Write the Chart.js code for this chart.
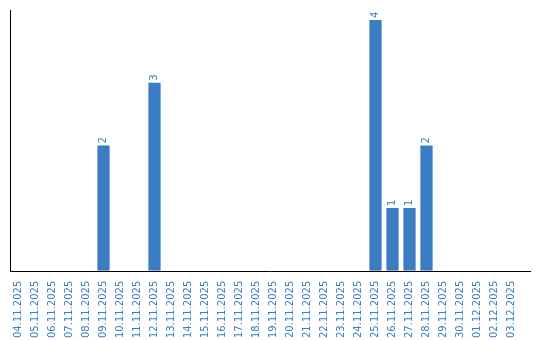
<!DOCTYPE html>
<html><head><meta charset="utf-8">
<script src="https://cdn.jsdelivr.net/npm/chart.js@4"></script>
<style>html,body{margin:0;padding:0;background:#fff}#wrap{width:540px;height:340px}</style>
</head><body><div id="wrap"><canvas id="c"></canvas></div>
<script>
const categories = ["04.11.2025","05.11.2025","06.11.2025","07.11.2025","08.11.2025","09.11.2025","10.11.2025","11.11.2025","12.11.2025","13.11.2025","14.11.2025","15.11.2025","16.11.2025","17.11.2025","18.11.2025","19.11.2025","20.11.2025","21.11.2025","22.11.2025","23.11.2025","24.11.2025","25.11.2025","26.11.2025","27.11.2025","28.11.2025","29.11.2025","30.11.2025","01.12.2025","02.12.2025","03.12.2025"];
const values = [0,0,0,0,0,2,0,0,3,0,0,0,0,0,0,0,0,0,0,0,0,4,1,1,2,0,0,0,0,0];
const BLUE = '#3a7dc2';

const valueLabels = {
  id: 'valueLabels',
  afterDatasetsDraw(chart) {
    const ctx = chart.ctx;
    const meta = chart.getDatasetMeta(0);
    ctx.save();
    ctx.fillStyle = BLUE;
    ctx.font = '10px "DejaVu Sans"';
    ctx.textAlign = 'left';
    ctx.textBaseline = 'middle';
    meta.data.forEach((bar, i) => {
      const v = values[i];
      if (!v) return;
      ctx.save();
      ctx.translate(bar.x, bar.y - 2);
      ctx.rotate(-Math.PI / 2);
      ctx.fillText(String(v), 0, 0);
      ctx.restore();
    });
    ctx.restore();
  }
};

// x axis line extends a little beyond the last category slot
const axisLine = {
  id: 'axisLine',
  afterDraw(chart) {
    const { ctx, chartArea } = chart;
    const y = Math.round(chart.scales.y.getPixelForValue(0)) + 0.5;
    ctx.save();
    ctx.strokeStyle = '#000';
    ctx.lineWidth = 1;
    ctx.beginPath();
    ctx.moveTo(chartArea.left, y);
    ctx.lineTo(chartArea.right + 11, y);
    ctx.stroke();
    ctx.restore();
  }
};

new Chart(document.getElementById('c'), {
  type: 'bar',
  data: { labels: categories, datasets: [{ data: values, backgroundColor: BLUE, borderWidth: 0 }] },
  options: {
    responsive: true, maintainAspectRatio: false, animation: false,
    layout: { padding: { left: 2, right: 20, top: 10, bottom: 0 } },
    plugins: { legend: { display: false }, tooltip: { enabled: false } },
    scales: {
      x: {
        grid: { display: false },
        border: { display: false },
        ticks: { color: BLUE, font: { family: 'DejaVu Sans', size: 10 }, minRotation: 90, maxRotation: 90, autoSkip: false, padding: 2 }
      },
      y: {
        min: 0, max: Math.max(...values) * 1.04,
        grid: { display: false },
        border: { display: true, color: '#000', width: 1 },
        ticks: { display: false }
      }
    }
  },
  plugins: [valueLabels, axisLine]
});
</script></body></html>
